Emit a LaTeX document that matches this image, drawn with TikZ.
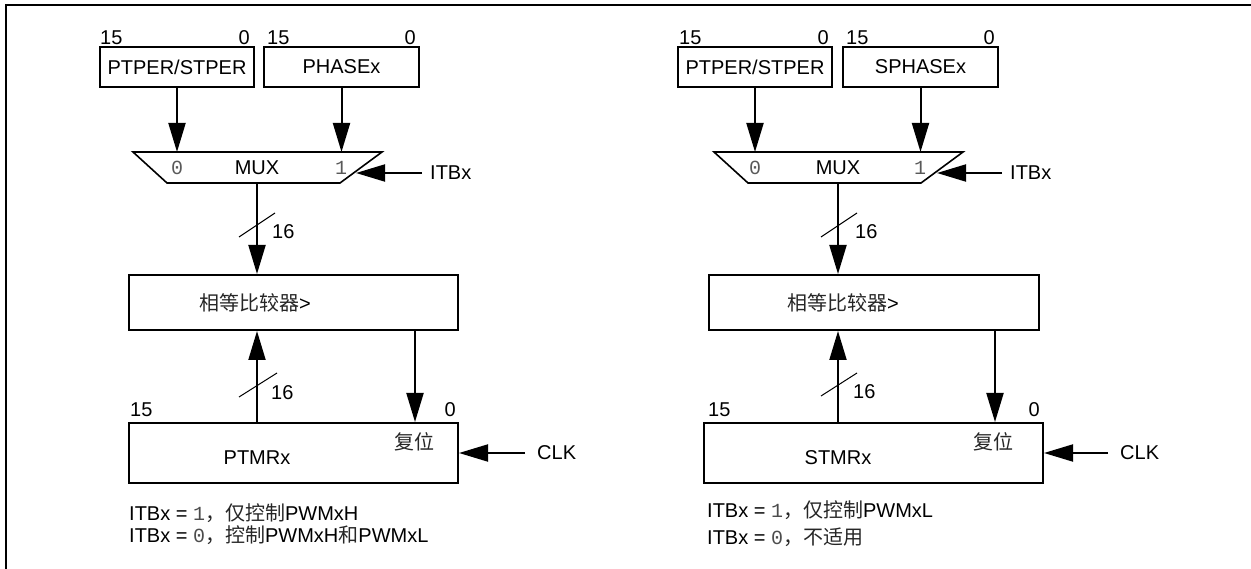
\documentclass[tikz,border=0pt]{standalone}
\usepackage{fontspec}
\setmainfont{Liberation Sans}
\newfontfamily\cjk{Noto Sans CJK SC}
\newfontfamily\monof{Liberation Mono}
\usetikzlibrary{arrows.meta}
\begin{document}
\begin{tikzpicture}[x=1pt,y=-1pt,
  font=\fontsize{20}{24}\selectfont,
  reg/.style={draw,line width=2pt,inner sep=0pt},
  txt/.style={inner sep=0pt},
  arr/.style={line width=2pt,-{Triangle[length=29pt,width=17pt]}},
  bus/.style={line width=1pt},
  dig/.style={text=black!65,font=\fontsize{20}{24}\monof},
  cn/.style={text=black!85}]
\useasboundingbox (0,0) rectangle (1251,569);
\draw[line width=2.4pt] (6,569) -- (6,5) -- (1251,5);

% ================= LEFT =================
\node[reg,minimum width=154pt,minimum height=40pt] (ptper1) at (177,67) {PTPER/STPER};
\node[reg,minimum width=155pt,minimum height=40pt] (phase1) at (341.5,67) {PHASEx};
\node[txt,anchor=base west] (b15a) at (100,45) {15};
\node[txt,anchor=base east] (b0a) at (250,45) {0};
\node[txt,anchor=base west] (b15b) at (267,45) {15};
\node[txt,anchor=base east] (b0b) at (416,45) {0};

\coordinate (m1tl) at (133,152);
\coordinate (m1tr) at (382,152);
\coordinate (m1br) at (340,183);
\coordinate (m1bl) at (167,183);
\coordinate (m1out) at (257,183);
\draw[line width=1.6pt] (m1tl) -- (m1tr) -- (m1br) -- (m1bl) -- cycle;
\node[txt] (mux1) at (257,168) {MUX};
\node[txt,dig] (m1d0) at (177,168) {0};
\node[txt,dig] (m1d1) at (341,168) {1};
\draw[arr] (ptper1.south) -- (ptper1.south |- m1tl);
\draw[arr] (phase1.south) -- (phase1.south |- m1tl);
\node[txt,anchor=west] (itb1) at (430,173) {ITBx};
\draw[arr] ([xshift=-8pt]itb1.west) -- (356,173);

\node[reg,minimum width=329pt,minimum height=55pt] (cmp1) at (293.5,302.5) {};
\node[txt,anchor=west] (cmp1t) at (199,303) {{\cjk\color{black!85}相等比较器}>};
\draw[arr] (m1out) -- (m1out |- cmp1.north);
\draw[bus] (239,237) -- (275,213);
\node[txt,anchor=west] (n16a) at (272,232) {16};

\node[reg,minimum width=329pt,minimum height=60pt] (tmr1) at (293.5,453) {};
\node[txt] (tmr1t) at (257,458) {PTMRx};
\node[txt,cn,font=\fontsize{20}{24}\cjk] (rst1t) at (414,442) {复位};
\node[txt,anchor=base west] (t15a) at (130,417) {15};
\node[txt,anchor=base east] (t0a) at (456,417) {0};
\coordinate (rst1) at (415,0);
\draw[arr] (tmr1.north -| m1out) -- (cmp1.south -| m1out);
\draw[bus] (239,397) -- (277,373);
\node[txt,anchor=west] (n16b) at (271,393) {16};
\draw[arr] (cmp1.south -| rst1) -- (tmr1.north -| rst1);
\node[txt,anchor=west] (clk1) at (537,453) {CLK};
\draw[arr] ([xshift=-12pt]clk1.west) -- (tmr1.east |- clk1.west);

\node[txt,anchor=west] (note1a) at (129,513) {ITBx = {\monof\color{black!70}1}{\cjk\color{black!85}，仅控制}PWMxH};
\node[txt,anchor=west] (note1b) at (129,535) {ITBx = {\monof\color{black!70}0}{\cjk\color{black!85}，控制}PWMxH{\cjk\color{black!85}和}PWMxL};

% ================= RIGHT =================
\node[reg,minimum width=154pt,minimum height=40pt] (ptper2) at (755,67) {PTPER/STPER};
\node[reg,minimum width=155pt,minimum height=40pt] (phase2) at (920.5,67) {SPHASEx};
\node[txt,anchor=base west] (b15c) at (679,45) {15};
\node[txt,anchor=base east] (b0c) at (829,45) {0};
\node[txt,anchor=base west] (b15d) at (846,45) {15};
\node[txt,anchor=base east] (b0d) at (995,45) {0};

\coordinate (m2tl) at (714,152);
\coordinate (m2tr) at (963,152);
\coordinate (m2br) at (921,183);
\coordinate (m2bl) at (748,183);
\coordinate (m2out) at (838,183);
\draw[line width=1.6pt] (m2tl) -- (m2tr) -- (m2br) -- (m2bl) -- cycle;
\node[txt] (mux2) at (838,168) {MUX};
\node[txt,dig] (m2d0) at (755,168) {0};
\node[txt,dig] (m2d1) at (920,168) {1};
\draw[arr] (ptper2.south) -- (ptper2.south |- m2tl);
\draw[arr] (phase2.south) -- (phase2.south |- m2tl);
\node[txt,anchor=west] (itb2) at (1010,173) {ITBx};
\draw[arr] ([xshift=-8pt]itb2.west) -- (937,173);

\node[reg,minimum width=330pt,minimum height=55pt] (cmp2) at (874,302.5) {};
\node[txt,anchor=west] (cmp2t) at (787,303) {{\cjk\color{black!85}相等比较器}>};
\draw[arr] (m2out) -- (m2out |- cmp2.north);
\draw[bus] (821,237) -- (857,213);
\node[txt,anchor=west] (n16c) at (855,232) {16};

\node[reg,minimum width=339pt,minimum height=60pt] (tmr2) at (873.5,453) {};
\node[txt] (tmr2t) at (838,458) {STMRx};
\node[txt,cn,font=\fontsize{20}{24}\cjk] (rst2t) at (993,442) {复位};
\node[txt,anchor=base west] (t15b) at (708,417) {15};
\node[txt,anchor=base east] (t0b) at (1040,417) {0};
\coordinate (rst2) at (995,0);
\draw[arr] (tmr2.north -| m2out) -- (cmp2.south -| m2out);
\draw[bus] (821,396) -- (857,373);
\node[txt,anchor=west] (n16d) at (853,392) {16};
\draw[arr] (cmp2.south -| rst2) -- (tmr2.north -| rst2);
\node[txt,anchor=west] (clk2) at (1120,453) {CLK};
\draw[arr] ([xshift=-12pt]clk2.west) -- (tmr2.east |- clk2.west);

\node[txt,anchor=west] (note2a) at (707,510) {ITBx = {\monof\color{black!70}1}{\cjk\color{black!85}，仅控制}PWMxL};
\node[txt,anchor=west] (note2b) at (707,537) {ITBx = {\monof\color{black!70}0}{\cjk\color{black!85}，不适用}};
\end{tikzpicture}
\end{document}
